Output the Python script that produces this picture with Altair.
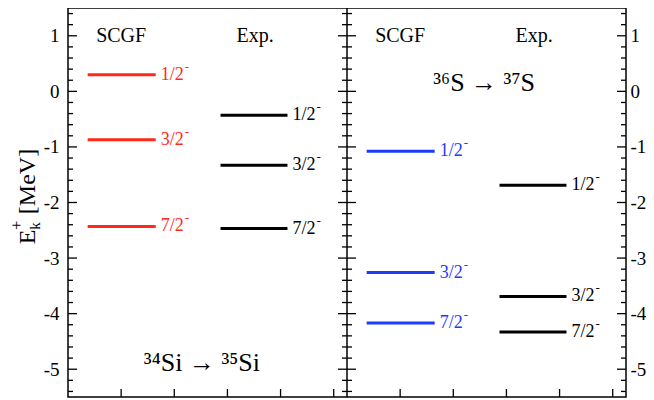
import altair as alt
import pandas as pd

FONT = "Liberation Serif"

# ---- data ----
spins = ["1/2", "3/2", "7/2"]
si_scgf = [0.30, -0.87, -2.43]
si_exp = [-0.43, -1.33, -2.47]
s_scgf = [-1.08, -3.26, -4.17]
s_exp = [-1.69, -3.69, -4.33]

panel_offset = {"Si": 0.0, "S": 5.25}
scgf_span = [0.37, 1.65]
exp_span = [2.87, 4.13]

headers = ["SCGF", "Exp."]
header_x = [1.0, 3.52]
header_y = 1.0

reactions = ["³⁴Si → ³⁵Si", "³⁶S → ³⁷S"]
reaction_x = [2.52, 7.83]
reaction_y = [-4.88, 0.15]

y_major = [-5, -4, -3, -2, -1, 0, 1]
y_minor = [round(-5.4 + 0.2 * i, 1) for i in range(35)]
x_major = [1, 2, 3, 4, 5]
edges = [0.0, 5.25, 10.5]

# ---- tables ----
rows = []
for panel, scgf, exp, sname in [("Si", si_scgf, si_exp, "Si SCGF"), ("S", s_scgf, s_exp, "S SCGF")]:
    off = panel_offset[panel]
    for sp, e in zip(spins, scgf):
        rows.append(dict(series=sname, spin=sp, E=e, x0=scgf_span[0] + off, x1=scgf_span[1] + off))
    for sp, e in zip(spins, exp):
        rows.append(dict(series="Exp", spin=sp, E=e, x0=exp_span[0] + off, x1=exp_span[1] + off))
levels = pd.DataFrame(rows)

hdr = pd.DataFrame([dict(t=h, x=hx + off, y=header_y)
                    for off in panel_offset.values() for h, hx in zip(headers, header_x)])
rx = pd.DataFrame(dict(t=reactions, x=reaction_x, y=reaction_y))

ymaj = pd.DataFrame([dict(v=v, e=e) for v in y_major for e in edges])
ymin = pd.DataFrame([dict(v=v, e=e) for v in y_minor for e in edges if v not in y_major])
xt = pd.DataFrame(dict(xv=[x + off for off in panel_offset.values() for x in x_major], yb=-5.5))

title_df = pd.DataFrame(dict(x=[0.0], y=[-2.75]))

xs = alt.Scale(domain=[0, 10.5], nice=False, zero=False)
ys = alt.Scale(domain=[-5.5, 1.5], nice=False, zero=False)
color = alt.Color("series:N", scale=alt.Scale(domain=["Si SCGF", "S SCGF", "Exp"],
                                              range=["#ff2a1a", "#1a3cff", "#000000"]), legend=None)

left_axis = alt.Axis(orient="left", values=y_major, ticks=False, domain=False, grid=False,
                     labelPadding=9, labelFont=FONT, labelFontSize=19, labelColor="black",
                     labelExpr="datum.value", title=None)
right_axis = alt.Axis(orient="right", values=y_major, ticks=False, domain=False, grid=False,
                      labelPadding=4, labelFont=FONT, labelFontSize=19, labelColor="black",
                      labelExpr="datum.value", title=None)

base = alt.Chart(levels)
lines = base.mark_rule(strokeWidth=3).encode(
    x=alt.X("x0:Q", scale=xs, axis=None), x2="x1:Q",
    y=alt.Y("E:Q", scale=ys, axis=left_axis), color=color)
labels = base.mark_text(align="left", baseline="middle", dx=5, font=FONT, fontSize=18).encode(
    x=alt.X("x1:Q", scale=xs, axis=None), y=alt.Y("E:Q", scale=ys, axis=None), text="spin:N", color=color)
sups = base.mark_text(align="left", baseline="middle", dx=29, dy=-8, font=FONT, fontSize=13).encode(
    x=alt.X("x1:Q", scale=xs, axis=None), y=alt.Y("E:Q", scale=ys, axis=None), text=alt.value("-"), color=color)

heads = alt.Chart(hdr).mark_text(font=FONT, fontSize=20, baseline="middle", color="black").encode(
    x=alt.X("x:Q", scale=xs, axis=None), y=alt.Y("y:Q", scale=ys, axis=None), text="t:N")
reac = alt.Chart(rx).mark_text(font=FONT, fontSize=26, baseline="middle", color="black").encode(
    x=alt.X("x:Q", scale=xs, axis=None), y=alt.Y("y:Q", scale=ys, axis=None), text="t:N")

maj = alt.Chart(ymaj).mark_rule(clip=True, xOffset=-9, x2Offset=9, strokeWidth=1.3, color="black").encode(
    x=alt.X("e:Q", scale=xs, axis=None), x2="e:Q", y=alt.Y("v:Q", scale=ys, axis=right_axis))
mnr = alt.Chart(ymin).mark_rule(clip=True, xOffset=-5, x2Offset=5, strokeWidth=1.3, color="black").encode(
    x=alt.X("e:Q", scale=xs, axis=None), x2="e:Q", y=alt.Y("v:Q", scale=ys, axis=None))
bt = alt.Chart(xt).mark_rule(clip=True, yOffset=-8, y2Offset=8, strokeWidth=1.3, color="black").encode(
    x=alt.X("xv:Q", scale=xs, axis=None), y=alt.Y("yb:Q", scale=ys, axis=None), y2="yb:Q")
divider = alt.Chart(pd.DataFrame(dict(e=[5.25]))).mark_rule(strokeWidth=1.5, color="black").encode(
    x=alt.X("e:Q", scale=xs, axis=None))

tb = alt.Chart(title_df)
def tpiece(txt, size, dx, dy):
    return tb.mark_text(text=txt, font=FONT, fontSize=size, angle=270, align="left",
                        baseline="alphabetic", dx=dx, dy=dy, color="black").encode(
        x=alt.X("x:Q", scale=xs, axis=None), y=alt.Y("y:Q", scale=ys, axis=None))

title_layers = [tpiece("E", 24, 0, -33), tpiece("k", 15, 14.5, -28),
                tpiece("+", 16, 14.5, -46), tpiece("[MeV]", 24, 30, -33)]

chart = alt.layer(lines, labels, sups, heads, reac, maj, mnr, bt, divider, *title_layers).resolve_axis(
    y="independent"
).properties(
    width=558, height=389,
    padding={"left": 60, "top": 0, "right": 20, "bottom": 3},
    autosize="none",
).configure_view(stroke="black", strokeWidth=1.5)

chart.save("out.html", embed_options={"renderer": "svg", "actions": False})
